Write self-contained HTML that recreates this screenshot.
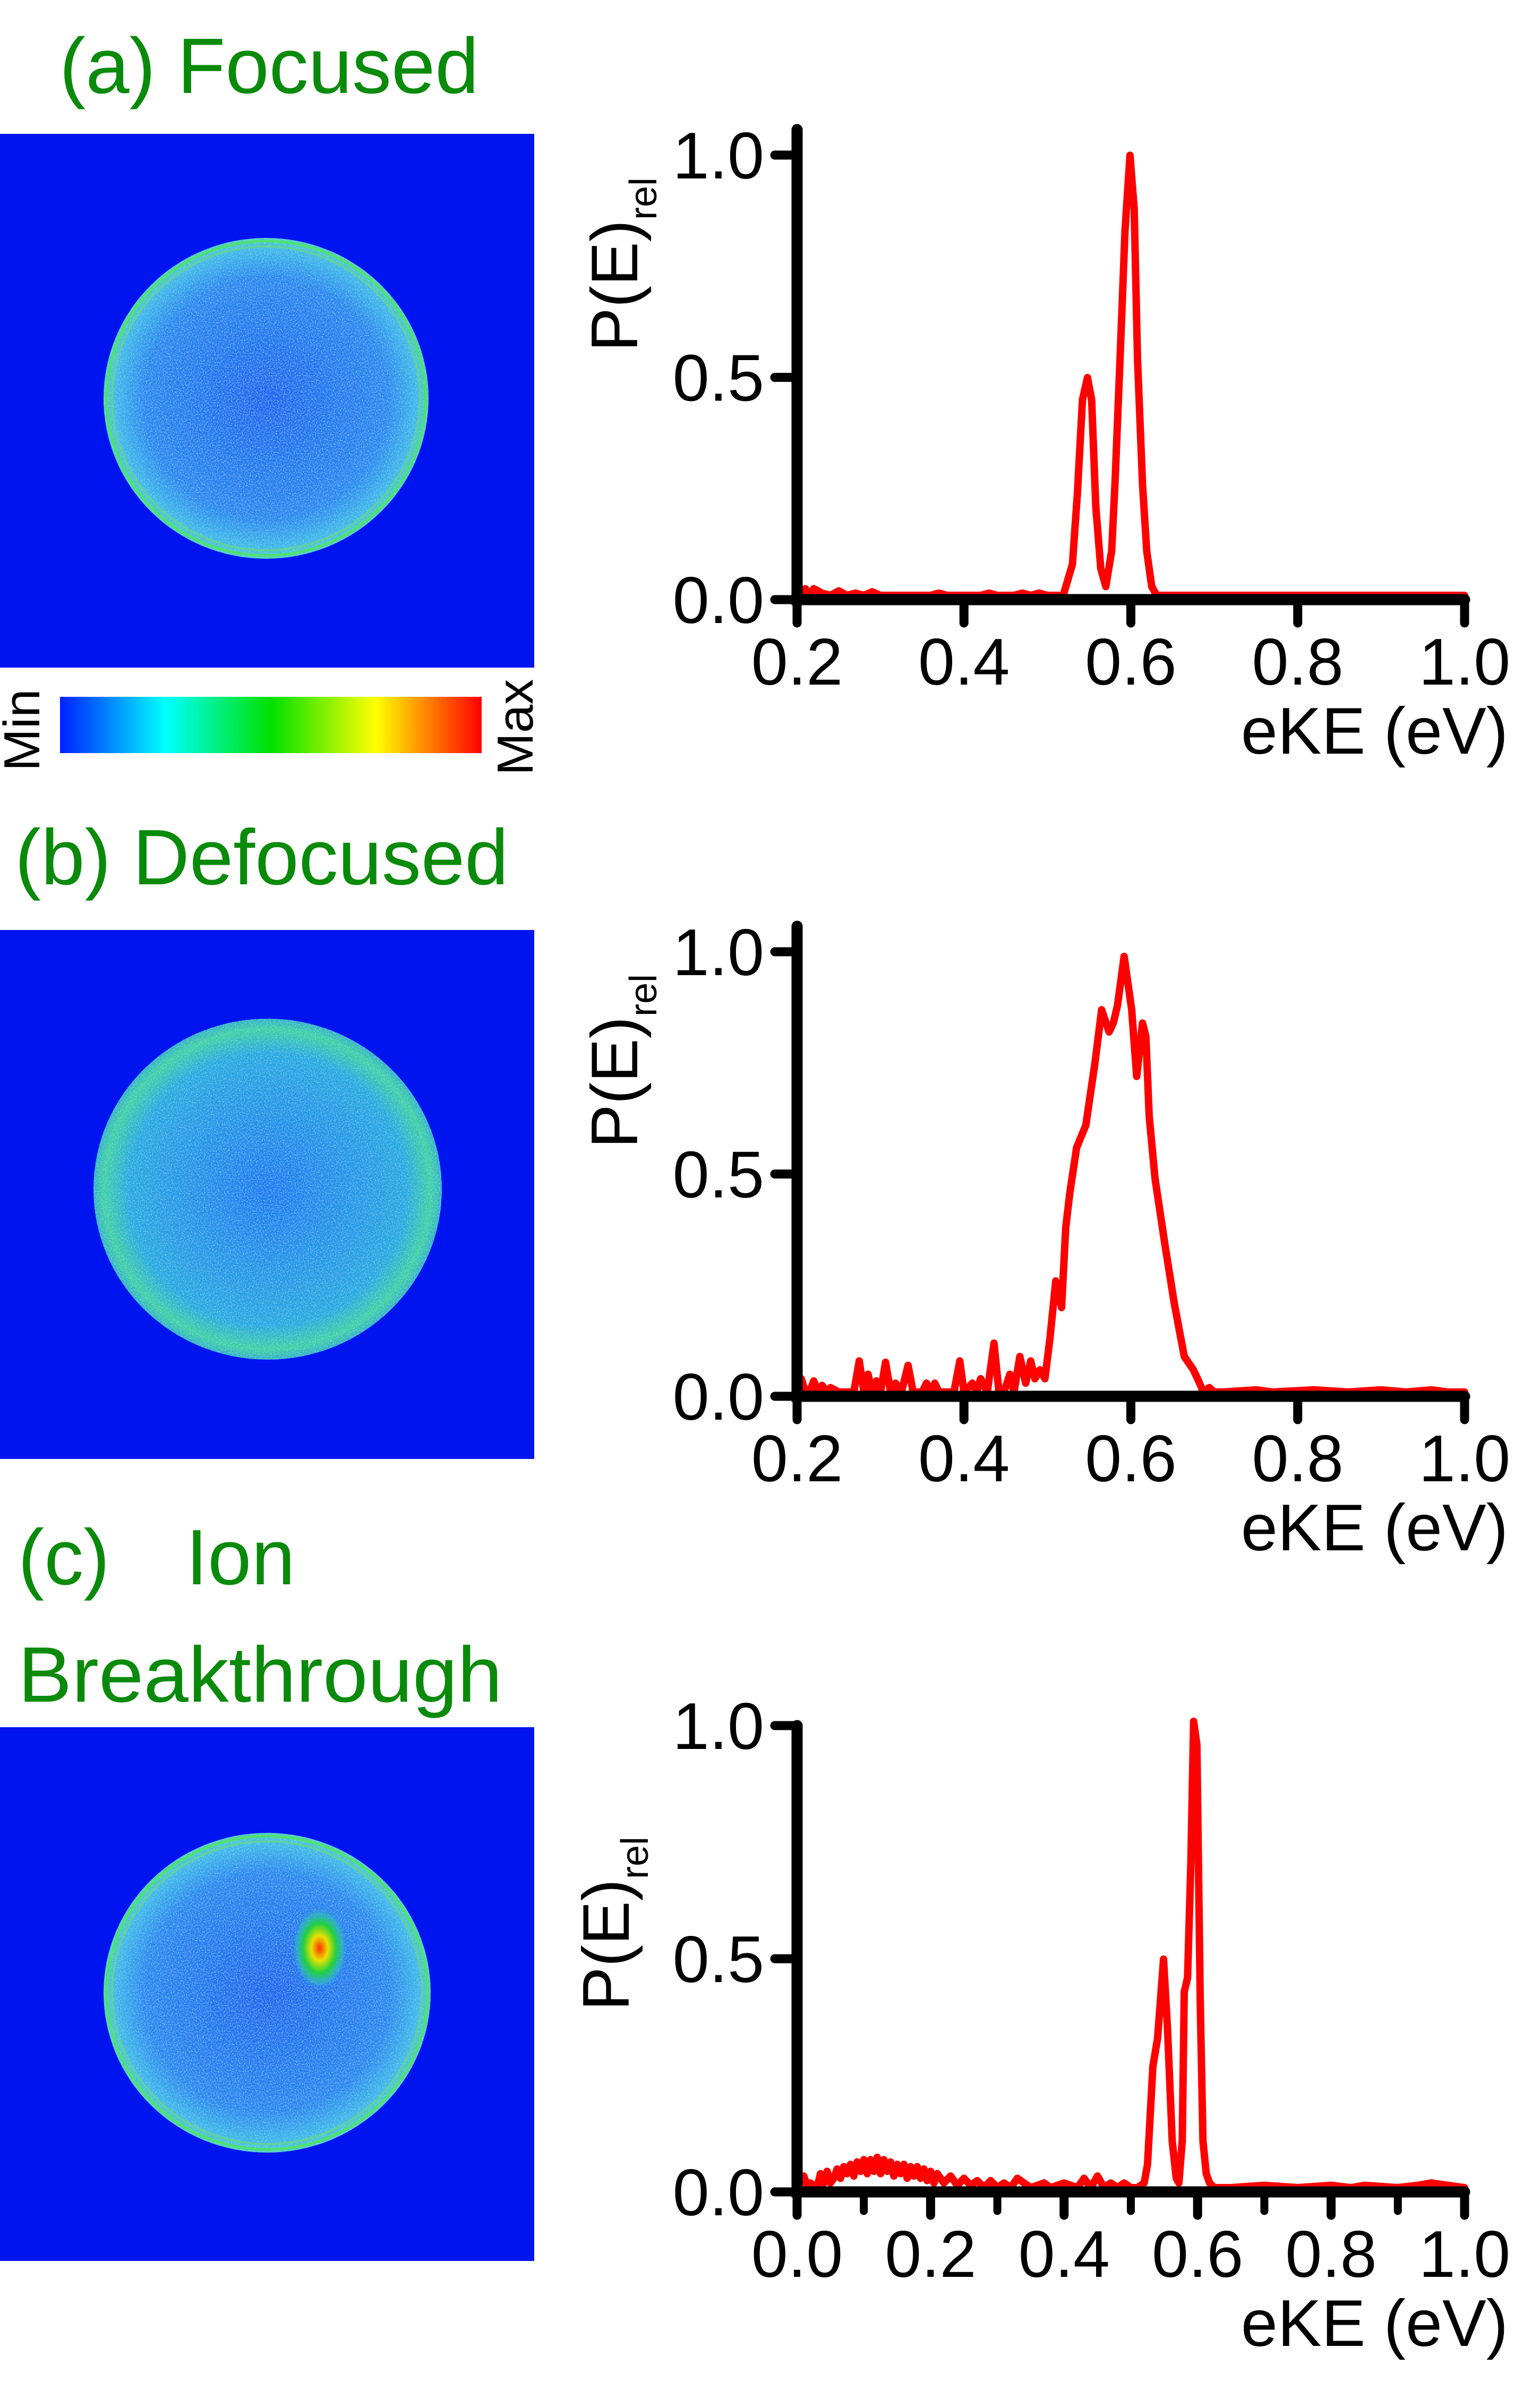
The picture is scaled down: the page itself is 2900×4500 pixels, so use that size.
<!DOCTYPE html>
<html><head><meta charset="utf-8">
<style>
html,body{margin:0;padding:0;background:#fff;}
body{width:2900px;height:4500px;overflow:hidden;position:relative;}
svg{position:absolute;left:0;top:0;}
text{font-family:"Liberation Sans",sans-serif;}
</style></head>
<body>
<svg id="root" width="2900" height="4500" viewBox="0 0 2900 4500" xmlns="http://www.w3.org/2000/svg">
<defs>
  <filter id="noise" x="0" y="0" width="100%" height="100%">
    <feTurbulence type="fractalNoise" baseFrequency="0.45" numOctaves="2" seed="3" result="t"/>
    <feColorMatrix in="t" type="matrix" values="0 0 0 0 0.3  0 0 0 0 0.8  0 0 0 0 1  0 0 0 1.6 -0.75" result="c"/>
    <feComposite in="c" in2="SourceGraphic" operator="in" result="m"/>
    <feMerge><feMergeNode in="SourceGraphic"/><feMergeNode in="m"/></feMerge>
  </filter>
  <radialGradient id="disk" cx="50%" cy="50%" r="50%">
    <stop offset="0" stop-color="#1e62ee"/>
    <stop offset="0.75" stop-color="#2a86ee"/>
    <stop offset="0.93" stop-color="#40b8e8"/>
    <stop offset="1" stop-color="#50d0c0"/>
  </radialGradient>
  <radialGradient id="diskb" cx="50%" cy="50%" r="50%">
    <stop offset="0" stop-color="#1c78f0"/>
    <stop offset="0.8" stop-color="#28a8e0"/>
    <stop offset="0.94" stop-color="#40d0a0"/>
    <stop offset="1" stop-color="#30b0c8"/>
  </radialGradient>
  <radialGradient id="spot" cx="50%" cy="50%" r="50%">
    <stop offset="0" stop-color="#ff3000"/>
    <stop offset="0.3" stop-color="#e8e000"/>
    <stop offset="0.6" stop-color="#20d040"/>
    <stop offset="0.85" stop-color="#30c0c0" stop-opacity="0.6"/>
    <stop offset="1" stop-color="#2a86ee" stop-opacity="0"/>
  </radialGradient>
  <linearGradient id="jet" x1="0" x2="1" y1="0" y2="0">
    <stop offset="0" stop-color="#0020ff"/>
    <stop offset="0.25" stop-color="#00ffff"/>
    <stop offset="0.5" stop-color="#00e000"/>
    <stop offset="0.75" stop-color="#ffff00"/>
    <stop offset="1" stop-color="#ff0000"/>
  </linearGradient>
</defs>

<!-- Titles -->
<text x="112" y="175" font-size="148" fill="#0a8a0a">(a) Focused</text>
<text x="28" y="1665" font-size="148" fill="#0a8a0a">(b) Defocused</text>
<text x="34" y="2983" font-size="148" fill="#0a8a0a">(c)</text>
<text x="350" y="2983" font-size="148" fill="#0a8a0a">Ion</text>
<text x="34" y="3204" font-size="148" fill="#0a8a0a" textLength="912" lengthAdjust="spacingAndGlyphs">Breakthrough</text>

<!-- Image a -->
<g>
  <rect x="0" y="252" width="1006" height="1005" fill="#0014f0"/>
  <ellipse cx="501" cy="750" rx="306" ry="302" fill="url(#disk)" filter="url(#noise)"/>
  <ellipse cx="501" cy="750" rx="300" ry="296" fill="none" stroke="#50e070" stroke-width="5"/>
  <ellipse cx="501" cy="750" rx="290" ry="286" fill="none" stroke="#60d0a0" stroke-width="4"/>
</g>
<!-- colorbar -->
<g>
  <rect x="113" y="1312" width="794" height="106" fill="url(#jet)"/>
  <text transform="translate(74,1452) rotate(-90)" font-size="96" fill="#000">Min</text>
  <text transform="translate(1003,1460) rotate(-90)" font-size="96" fill="#000">Max</text>
</g>

<!-- Image b -->
<g>
  <rect x="0" y="1751" width="1006" height="996" fill="#0014f0"/>
  <ellipse cx="504" cy="2239" rx="328" ry="321" fill="url(#diskb)" filter="url(#noise)"/>
</g>

<!-- Image c -->
<g>
  <rect x="0" y="3252" width="1006" height="1005" fill="#0014f0"/>
  <ellipse cx="503" cy="3752" rx="308" ry="301" fill="url(#disk)" filter="url(#noise)"/>
  <ellipse cx="503" cy="3752" rx="302" ry="295" fill="none" stroke="#50e070" stroke-width="5"/>
  <ellipse cx="503" cy="3752" rx="292" ry="285" fill="none" stroke="#60d0a0" stroke-width="4"/>
  <ellipse cx="602" cy="3668" rx="52" ry="78" fill="url(#spot)"/>
</g>

<g id="charts"></g>
</svg>
<script>
// Panel (a) focused
const aE = [0.2,0.205,0.21,0.215,0.22,0.23,0.24,0.25,0.26,0.27,0.28,0.29,0.3,0.31,0.36,0.37,0.38,0.42,0.43,0.44,0.46,0.47,0.48,0.49,0.5,0.515,0.519,0.53,0.536,0.542,0.548,0.553,0.558,0.564,0.57,0.577,0.581,0.587,0.593,0.599,0.604,0.608,0.614,0.619,0.625,0.631,0.7,0.8,0.9,1.0];
const aP = [0.02,0.0,0.015,0.0,0.015,0.005,0.0,0.01,0.0,0.005,0.0,0.008,0.0,0.0,0.0,0.005,0.0,0.0,0.005,0.0,0.0,0.005,0.0,0.005,0.0,0.0,0.0,0.07,0.23,0.44,0.49,0.44,0.2,0.06,0.02,0.1,0.25,0.53,0.82,0.99,0.87,0.53,0.25,0.1,0.02,0.0,0.0,0.0,0.0,0.0];
// Panel (b) defocused
const bE = [0.2,0.205,0.21,0.215,0.22,0.225,0.23,0.235,0.24,0.25,0.26,0.268,0.2745,0.28,0.285,0.29,0.295,0.3,0.306,0.312,0.318,0.325,0.333,0.339,0.345,0.35,0.355,0.36,0.365,0.37,0.38,0.388,0.395,0.4,0.41,0.415,0.42,0.428,0.436,0.442,0.448,0.455,0.46,0.467,0.474,0.48,0.485,0.491,0.497,0.503,0.51,0.517,0.522,0.527,0.535,0.546,0.557,0.565,0.574,0.579,0.584,0.592,0.601,0.607,0.614,0.618,0.622,0.629,0.641,0.652,0.664,0.675,0.68,0.687,0.694,0.7,0.71,0.75,0.77,0.82,0.86,0.9,0.93,0.96,0.98,1.0];
const bP = [0.0,0.03,0.0,0.0,0.025,0.0,0.015,0.0,0.01,0.0,0.0,0.0,0.07,0.0,0.04,0.0,0.025,0.0,0.067,0.0,0.02,0.0,0.06,0.0,0.0,0.0,0.02,0.0,0.02,0.0,0.0,0.0,0.07,0.0,0.02,0.0,0.03,0.0,0.11,0.0,0.0,0.04,0.0,0.08,0.02,0.07,0.03,0.05,0.03,0.12,0.25,0.19,0.37,0.45,0.55,0.6,0.74,0.86,0.81,0.83,0.87,0.98,0.86,0.71,0.83,0.8,0.62,0.48,0.33,0.2,0.08,0.05,0.03,0.0,0.01,0.0,0.0,0.005,0.0,0.005,0.0,0.005,0.0,0.005,0.0,0.0];
// Panel (c) ion breakthrough
const cE = [0.0,0.005,0.01,0.015,0.02,0.03,0.035,0.04,0.045,0.05,0.055,0.06,0.065,0.07,0.075,0.08,0.085,0.09,0.095,0.1,0.105,0.11,0.115,0.12,0.125,0.13,0.135,0.14,0.145,0.15,0.155,0.16,0.165,0.17,0.175,0.18,0.185,0.19,0.195,0.2,0.205,0.21,0.22,0.23,0.24,0.25,0.26,0.27,0.28,0.29,0.3,0.31,0.32,0.33,0.35,0.37,0.38,0.4,0.42,0.43,0.44,0.45,0.46,0.47,0.48,0.49,0.5,0.51,0.52,0.525,0.533,0.54,0.549,0.555,0.562,0.568,0.572,0.577,0.58,0.585,0.59,0.594,0.599,0.604,0.608,0.613,0.618,0.625,0.65,0.7,0.75,0.8,0.83,0.85,0.9,0.93,0.95,1.0];
const cP = [0.02,0.01,0.025,0.005,0.01,0.0,0.03,0.01,0.035,0.01,0.02,0.04,0.02,0.045,0.03,0.05,0.025,0.055,0.035,0.06,0.03,0.06,0.035,0.065,0.03,0.06,0.035,0.055,0.025,0.05,0.03,0.05,0.02,0.045,0.025,0.045,0.02,0.04,0.015,0.035,0.01,0.03,0.01,0.025,0.005,0.02,0.005,0.015,0.0,0.015,0.0,0.01,0.0,0.02,0.0,0.01,0.0,0.01,0.0,0.02,0.0,0.025,0.0,0.01,0.0,0.01,0.0,0.0,0.01,0.05,0.26,0.32,0.49,0.34,0.1,0.02,0.01,0.1,0.42,0.45,0.7,1.0,0.95,0.4,0.1,0.03,0.01,0.0,0.0,0.005,0.0,0.005,0.0,0.005,0.0,0.005,0.01,0.0];

const xTicksAB = ["0.2","0.4","0.6","0.8","1.0"];
const xTickValsAB = [0.2,0.4,0.6,0.8,1.0];
const xTicksC = ["0.0","0.2","0.4","0.6","0.8","1.0"];
const xTickValsC = [0.0,0.2,0.4,0.6,0.8,1.0];
const xMinorValsC = [0.1,0.3,0.5,0.7,0.9];
const yTicks = ["0.0","0.5","1.0"];
const yTickVals = [0.0,0.5,1.0];

const NS = "http://www.w3.org/2000/svg";
const root = document.getElementById('charts');
function mk(tag, attrs, parent){
  const e = document.createElementNS(NS, tag);
  for (const k in attrs) e.setAttribute(k, attrs[k]);
  parent.appendChild(e);
  return e;
}

function drawPanel(id, cfg, E, P, xLabels, xVals, minor){
  const g = mk('g', {}, root);
  
  
  const xs = v => cfg.x0 + (v - cfg.xmin) / (cfg.xmax - cfg.xmin) * (cfg.x1 - cfg.x0);
  const ys = v => cfg.y0 - v * (cfg.y0 - cfg.y1);
  let d = '';
  for (let i = 0; i < E.length; i++) d += (i ? 'L' : 'M') + xs(E[i]).toFixed(1) + ',' + (ys(P[i]) - 8).toFixed(1);
  const line = mk('path', {d: d, fill: 'none', stroke: '#ff0000', 'stroke-width': 14, 'stroke-linejoin': 'round', 'stroke-linecap': 'round'}, g);
  
  
  const ax = mk('path', {d: 'M' + cfg.x0 + ',' + cfg.ytop + 'L' + cfg.x0 + ',' + cfg.y0 + 'L' + cfg.x1 + ',' + cfg.y0, fill: 'none', stroke: '#000', 'stroke-width': 21, 'stroke-linecap': 'round', 'stroke-linejoin': 'miter'}, g);
  
  
  xVals.forEach((v, i) => {
    const t = mk('line', {x1: xs(v), x2: xs(v), y1: cfg.y0, y2: cfg.y0 + 44, stroke: '#000', 'stroke-width': 17, 'stroke-linecap': 'round'}, g);
    
    
    const lb = mk('text', {x: xs(v), y: cfg.y0 + 160, 'font-size': 124, 'text-anchor': 'middle', fill: '#000'}, g);
    lb.textContent = xLabels[i];
    
    
  });
  (minor || []).forEach(v => {
    const t = mk('line', {x1: xs(v), x2: xs(v), y1: cfg.y0, y2: cfg.y0 + 36, stroke: '#000', 'stroke-width': 15, 'stroke-linecap': 'round'}, g);
    
    
  });
  yTickVals.forEach((v, i) => {
    const t = mk('line', {x1: cfg.x0 - 42, x2: cfg.x0, y1: ys(v), y2: ys(v), stroke: '#000', 'stroke-width': 17, 'stroke-linecap': 'round'}, g);
    
    
    const lb = mk('text', {x: cfg.x0 - 62, y: ys(v) + 44, 'font-size': 124, 'text-anchor': 'end', fill: '#000'}, g);
    lb.textContent = yTicks[i];
    
    
  });
  const xt = mk('text', {x: cfg.x1 + 82, y: cfg.y0 + 290, 'font-size': 124, 'text-anchor': 'end', fill: '#000'}, g);
  xt.textContent = 'eKE (eV)';
  
  
  const yt = mk('text', {transform: 'translate(' + cfg.ylx + ',' + cfg.yly + ') rotate(-90)', 'font-size': 124, fill: '#000'}, g);
  
  
  yt.appendChild(document.createTextNode('P(E)'));
  const sub = mk('tspan', {'font-size': 72, dy: 36}, yt);
  sub.textContent = 'rel';
}

drawPanel('a', {x0: 1501, x1: 2758, xmin: 0.2, xmax: 1.0, y0: 1129, y1: 292, ytop: 244, ylx: 1200, yly: 662}, aE, aP, xTicksAB, xTickValsAB, null);
drawPanel('b', {x0: 1501, x1: 2758, xmin: 0.2, xmax: 1.0, y0: 2629, y1: 1792, ytop: 1744, ylx: 1200, yly: 2162}, bE, bP, xTicksAB, xTickValsAB, null);
drawPanel('c', {x0: 1501, x1: 2758, xmin: 0.0, xmax: 1.0, y0: 4127, y1: 3249, ytop: 3249, ylx: 1184, yly: 3786}, cE, cP, xTicksC, xTickValsC, xMinorValsC);
</script>
</body></html>
